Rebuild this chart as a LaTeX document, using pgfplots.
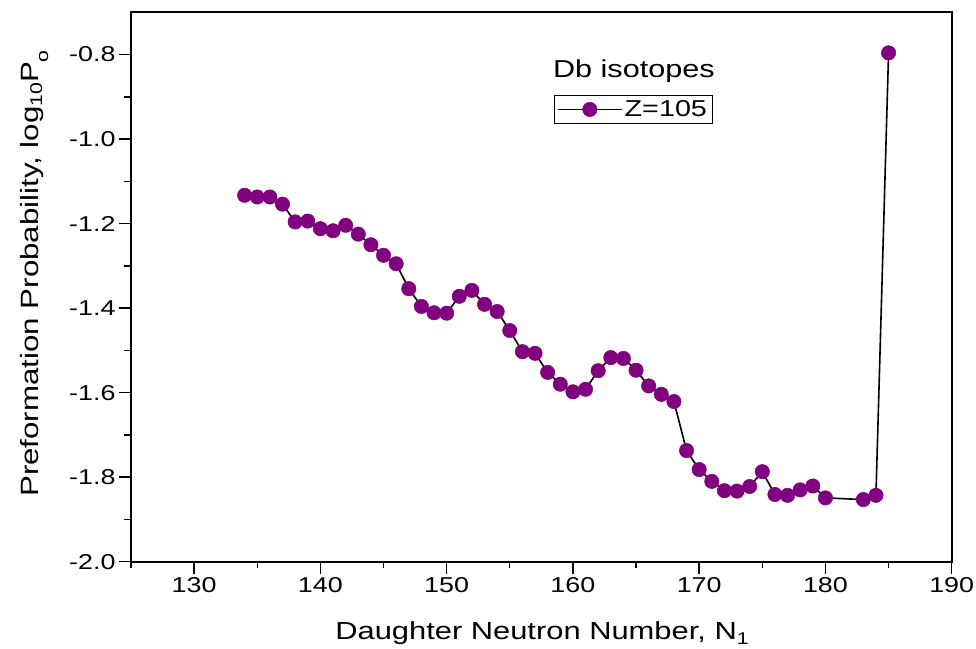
\documentclass[border=0pt]{standalone}
\usepackage{fontspec}
\setmainfont{Liberation Sans}[FakeStretch=1.25]
\usepackage{pgfplots}
\pgfplotsset{compat=1.18}
\usepackage{pgfplotstable}
\definecolor{mpurple}{RGB}{128,0,128}
\newcommand\lsub[2]{\raisebox{-#1}{\fontsize{17}{17}\selectfont #2}}

\pgfplotstableread{
N P
134 -1.133
135 -1.137
136 -1.137
137 -1.154
138 -1.196
139 -1.194
140 -1.212
141 -1.217
142 -1.204
143 -1.225
144 -1.250
145 -1.275
146 -1.295
147 -1.354
148 -1.396
149 -1.411
150 -1.412
151 -1.372
152 -1.358
153 -1.391
154 -1.408
155 -1.453
156 -1.503
157 -1.507
158 -1.552
159 -1.580
160 -1.598
161 -1.592
162 -1.548
163 -1.517
164 -1.519
165 -1.547
166 -1.584
167 -1.604
168 -1.621
169 -1.737
170 -1.782
171 -1.810
172 -1.832
173 -1.833
174 -1.822
175 -1.787
176 -1.841
177 -1.843
178 -1.830
179 -1.821
180 -1.849
183 -1.853
184 -1.843
185 -0.796
}\dbdata

\begin{document}
\begin{tikzpicture}
\useasboundingbox (-131pt,-86.3pt) rectangle (845pt,561.7pt);
\begin{axis}[
  at={(0pt,0pt)}, anchor=south west,
  scale only axis,
  width=820.7pt, height=549.4pt,
  xmin=125, xmax=190,
  ymin=-2.0, ymax=-0.7,
  xtick={130,140,150,160,170,180,190},
  minor xtick={125,135,145,155,165,175,185},
  ytick={-2,-1.8,-1.6,-1.4,-1.2,-1,-0.8},
  minor ytick={-1.9,-1.7,-1.5,-1.3,-1.1,-0.9},
  xtick pos=bottom, ytick pos=left,
  tick align=outside,
  major tick length=12pt, minor tick length=6.5pt,
  every tick/.style={black, line width=1.4pt},
  axis line style={black, line width=1.6pt},
  /pgf/number format/assume math mode=true,
  yticklabel style={/pgf/number format/.cd, fixed, fixed zerofill, precision=1},
  ticklabel style={font=\fontsize{21.5}{25}\selectfont},
  xlabel={Daughter Neutron Number, N\lsub{5pt}{1}},
  ylabel={Preformation Probability, log\lsub{4pt}{10}P\lsub{10pt}{o}},
  xlabel style={at={(rel axis cs:0.5008,-0.1407)}, anchor=base, font=\fontsize{24.7}{28}\selectfont},
  ylabel style={at={(rel axis cs:-0.1133,0.5246)}, anchor=base, rotate=0, font=\fontsize{25}{28}\selectfont},
  legend style={at={(rel axis cs:0.515,0.849)}, anchor=north west, draw=black, line width=0.8pt,
    inner xsep=3pt, inner ysep=3pt, font=\fontsize{23}{26}\selectfont,
    nodes={inner sep=2pt}},
  legend image code/.code={\draw[#1, mark repeat=2, mark phase=2] plot coordinates {(0pt,0pt) (32pt,0pt) (64pt,0pt)};},
]
\addplot[black, line width=1.6pt, mark=*, mark size=7.2pt,
  mark options={draw=mpurple, fill=mpurple, line width=0.5pt}] table[x=N, y=P] {\dbdata};
\addlegendentry{Z=105}
\node[anchor=base west, font=\fontsize{24.5}{28}\selectfont, inner sep=0pt] at (rel axis cs:0.514,0.882) {Db isotopes};
\end{axis}
\end{tikzpicture}
\end{document}
